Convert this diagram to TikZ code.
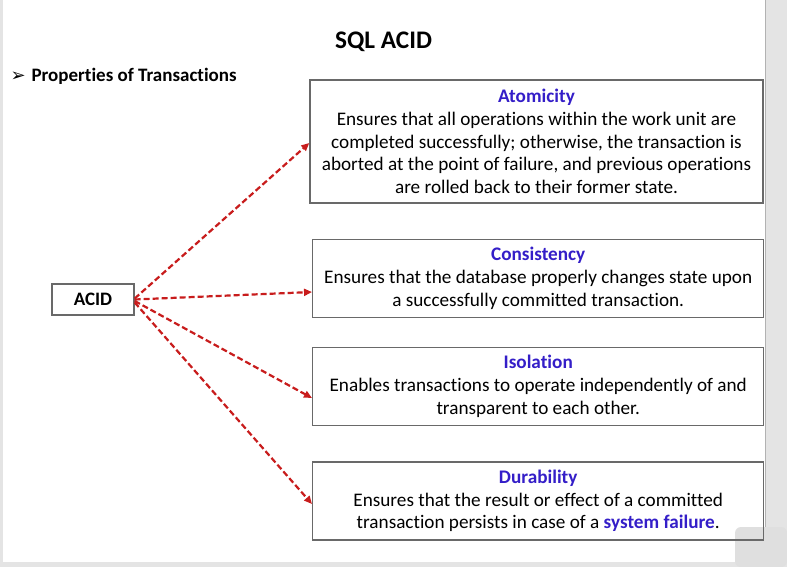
\documentclass[tikz,border=0pt]{standalone}
\usepackage{fontspec}
\setmainfont{Carlito}[Ligatures=NoCommon]
\newfontfamily\symfont{DejaVu Sans}
\usetikzlibrary{arrows.meta}

\definecolor{headblue}{RGB}{52,30,200}
\definecolor{linkred}{RGB}{200,28,28}
\definecolor{framegray}{RGB}{105,105,105}
\definecolor{edgegray}{RGB}{228,228,228}

\begin{document}
\begin{tikzpicture}[x=1pt,y=-1pt,
		propbox/.style={draw=framegray,line width=1.4pt,minimum width=451pt,
			align=center,inner sep=0pt,font=\fontsize{19.2}{22.7}\selectfont},
		dasharrow/.style={draw=linkred,line width=2.2pt,dash pattern=on 6pt off 3pt,
			-{Triangle[length=8pt,width=7pt]}}]
		
		% page and its grey edges
		\useasboundingbox (0,0) rectangle (787,567);
		\fill[white] (0,0) rectangle (787,567);
		\fill[edgegray] (0,0) rectangle (3,567);
		\fill[edgegray] (765,0) rectangle (787,567);
		\draw[gray!60,line width=1pt] (765,0)--(765,562);
		\fill[edgegray] (0,562) rectangle (787,567);
		\fill[gray!25,rounded corners=6pt] (735,527) rectangle (787,567);
		
		% headings
		\node[font=\bfseries\fontsize{25.3}{29}\selectfont] (title) at (383.5,42) {SQL ACID};
		\node[anchor=west,font=\bfseries\fontsize{19}{22}\selectfont] (sub) at (7,76)
		{{\symfont\fontsize{18}{20}\selectfont ➢}\hspace{6pt}Properties of Transactions};
		
		% the four properties
		\node[propbox,minimum width=453pt,minimum height=123pt] (atom) at (536.5,141.5)
		{{\color{headblue}\bfseries Atomicity}\\
			Ensures that all operations within the work unit are\\
			completed successfully; otherwise, the transaction is\\
			aborted at the point of failure, and previous operations\\
			are rolled back to their former state.};
		
		\node[propbox,minimum height=78pt] (cons) at (538.2,278.5)
		{{\color{headblue}\bfseries Consistency}\\
			Ensures that the database properly changes state upon\\
			a successfully committed transaction.};
		
		\node[propbox,minimum height=78pt] (iso) at (538.2,386.5)
		{{\color{headblue}\bfseries Isolation}\\
			Enables transactions to operate independently of and\\
			transparent to each other.};
		
		\node[propbox,minimum height=78pt] (dur) at (538.2,501)
		{{\color{headblue}\bfseries Durability}\\
			Ensures that the result or effect of a committed\\
			transaction persists in case of a {\color{headblue}\bfseries system failure}.};
		
		\node[draw=framegray,line width=1.4pt,minimum width=82pt,minimum height=31pt,
		inner sep=0pt,font=\bfseries\fontsize{19}{22}\selectfont] (acid) at (93,299.5) {ACID};
		
		% arrows
		\draw[dasharrow] ([yshift=1pt]acid.east) -- ([yshift=-1.5pt]atom.west);
		\draw[dasharrow] (acid.east) -- ([yshift=-13.5pt]cons.west);
		\draw[dasharrow] ([yshift=-1.5pt]acid.east) -- ([yshift=-11.5pt]iso.west);
		\draw[dasharrow] ([yshift=-3pt]acid.east) -- ([yshift=-3pt]dur.west);
		
	\end{tikzpicture}
\end{document}
